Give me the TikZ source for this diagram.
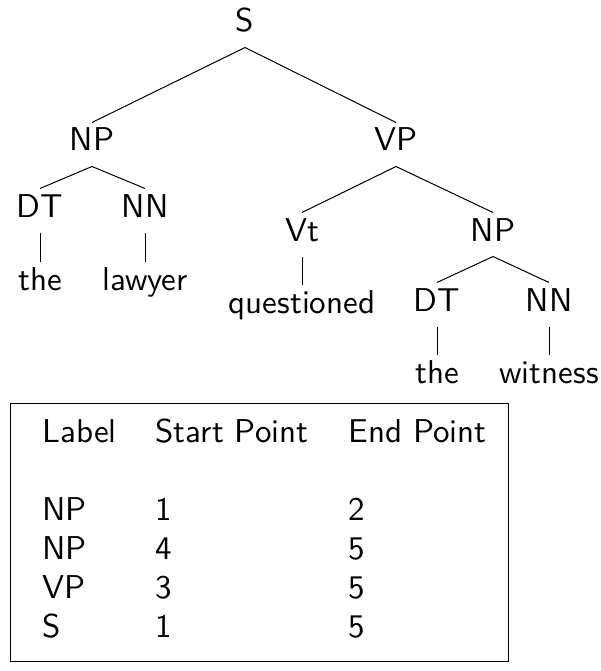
\documentclass[tikz,border=0pt]{standalone}
\usepackage{fontspec}
\newfontfamily\alberofont{lmsans10-regular.otf}
\begin{document}
\begin{tikzpicture}[x=1pt, y=-1pt, line width=1pt,
		every node/.style={font=\alberofont\fontsize{33}{39}\selectfont},
		etichetta/.style={anchor=base, text height=23pt, text depth=10pt, inner xsep=2pt, inner ysep=5pt}]
		\useasboundingbox (0,0) rectangle (601,671);
		% albero
		\node[etichetta] (s) at (245,32) {S};
		\node[etichetta] (np1) at (92,151) {NP};
		\node[etichetta] (vp) at (396,151) {VP};
		\node[etichetta] (dt1) at (40,217) {DT};
		\node[etichetta] (nn1) at (145,217) {NN};
		\node[etichetta] (w1) at (40,290) {the};
		\node[etichetta] (w2) at (145,290) {lawyer};
		\node[etichetta] (vt) at (302,241) {Vt};
		\node[etichetta] (np2) at (493,241) {NP};
		\node[etichetta] (w3) at (302,313) {questioned};
		\node[etichetta] (dt2) at (437,311) {DT};
		\node[etichetta] (nn2) at (549,311) {NN};
		\node[etichetta] (w4) at (437,383) {the};
		\node[etichetta] (w5) at (549,383) {witness};
		% rami
		\foreach \a/\b in {s/np1, s/vp, np1/dt1, np1/nn1, dt1/w1, nn1/w2, vp/vt, vp/np2, vt/w3, np2/dt2, np2/nn2, dt2/w4, nn2/w5}
			\draw (\a.south) -- (\b.north);
		% tabella
		\node[draw, anchor=north west, minimum width=498pt, minimum height=258pt, inner sep=0pt] (riquadro) at (10,403) {};
		\node[anchor=base west, inner sep=0pt] (tabella) at (42,442) {%
			\begin{tabular}[t]{@{}p{113pt}@{}p{193pt}@{}l@{}}
				Label & Start Point & End Point\\
				& & \\
				NP & 1 & 2\\
				NP & 4 & 5\\
				VP & 3 & 5\\
				S & 1 & 5
			\end{tabular}};
	\end{tikzpicture}
\end{document}
